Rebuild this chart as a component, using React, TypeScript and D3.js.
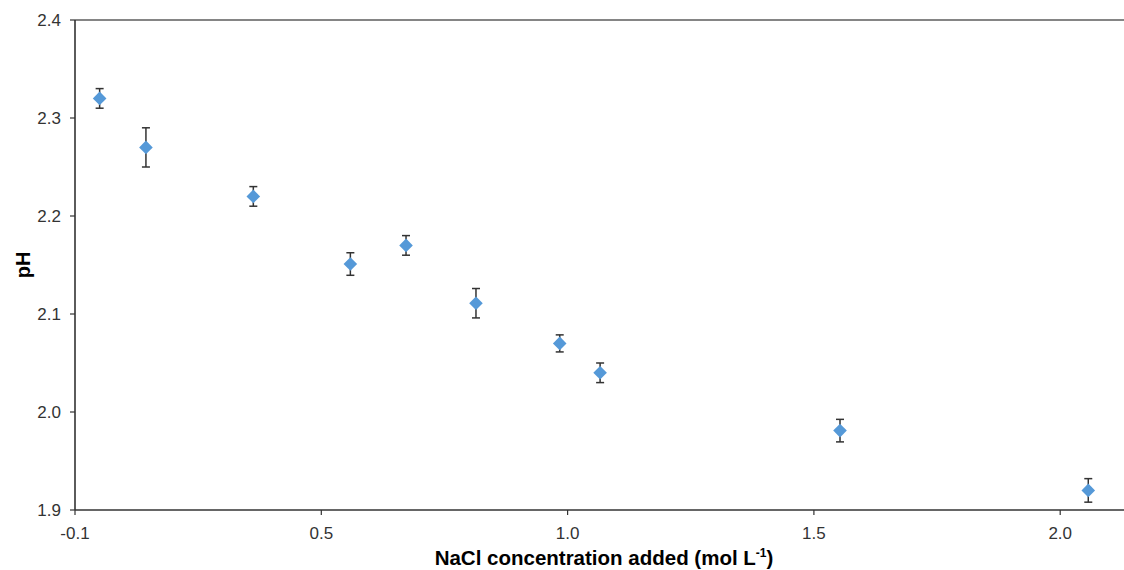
import React from "react";
import * as d3 from "d3";

const nacl = [0.05, 0.144, 0.362, 0.559, 0.672, 0.814, 0.984, 1.066, 1.553, 2.057];
const ph = [2.32, 2.27, 2.22, 2.151, 2.17, 2.111, 2.07, 2.04, 1.981, 1.92];
const phErr = [0.01, 0.02, 0.01, 0.0115, 0.01, 0.015, 0.0087, 0.01, 0.0115, 0.012];
const xTickValues = [0, 0.5, 1.0, 1.5, 2.0];
const xTickLabels = ["-0.1", "0.5", "1.0", "1.5", "2.0"];
const yTickValues = [1.9, 2.0, 2.1, 2.2, 2.3, 2.4];
const yTickLabels = ["1.9", "2.0", "2.1", "2.2", "2.3", "2.4"];

const W = 1124;
const H = 570;
const left = 75;
const top = 20;
const bottom = 510;
const font = "Arial, 'Liberation Sans', sans-serif";

export default function App() {
  const x = d3.scaleLinear().domain([0, 2.2]).range([left, left + 2.2 * 492.6]);
  const y = d3.scaleLinear().domain([1.9, 2.4]).range([bottom, top]);
  const r = 6.8;
  const cap = 4;
  return (
    <svg width={W} height={H} style={{ position: "absolute", left: 0, top: 0, background: "#fff" }}>
      <rect x={0} y={0} width={W} height={H} fill="#fff" />
      <line x1={left} x2={W} y1={top} y2={top} stroke="#858585" strokeWidth={2.2} />
      <line x1={left} x2={left} y1={top} y2={bottom} stroke="#333" strokeWidth={1.6} />
      <line x1={left} x2={W} y1={bottom} y2={bottom} stroke="#333" strokeWidth={1.6} />
      {yTickValues.map((v, i) => (
        <g key={"y" + i}>
          <line x1={left - 5} x2={left} y1={y(v)} y2={y(v)} stroke="#333" strokeWidth={1.2} />
          <text x={61} y={y(v) + 6} textAnchor="end" fontFamily={font} fontSize={17} fill="#333">
            {yTickLabels[i]}
          </text>
        </g>
      ))}
      {xTickValues.map((v, i) => (
        <g key={"x" + i}>
          <line x1={x(v)} x2={x(v)} y1={bottom} y2={bottom + 5} stroke="#333" strokeWidth={1.2} />
          <text x={x(v)} y={539} textAnchor="middle" fontFamily={font} fontSize={17} fill="#333">
            {xTickLabels[i]}
          </text>
        </g>
      ))}
      <text
        transform={`translate(30,265) rotate(-90)`}
        textAnchor="middle"
        fontFamily={font}
        fontSize={20}
        fontWeight="bold"
        fill="#000"
      >
        pH
      </text>
      <text x={604} y={565} textAnchor="middle" fontFamily={font} fontSize={20.5} fontWeight="bold" fill="#000">
        NaCl concentration added (mol L
        <tspan fontSize={12} dy={-8}>-1</tspan>
        <tspan dy={8}>)</tspan>
      </text>
      {nacl.map((v, i) => {
        const cx = x(v);
        const cy = y(ph[i]);
        const y1 = y(ph[i] + phErr[i]);
        const y2 = y(ph[i] - phErr[i]);
        return (
          <g key={"p" + i}>
            <line x1={cx} x2={cx} y1={y1} y2={y2} stroke="#333" strokeWidth={1.5} />
            <line x1={cx - cap} x2={cx + cap} y1={y1} y2={y1} stroke="#333" strokeWidth={1.5} />
            <line x1={cx - cap} x2={cx + cap} y1={y2} y2={y2} stroke="#333" strokeWidth={1.5} />
            <path
              d={`M${cx},${cy - r}L${cx + r},${cy}L${cx},${cy + r}L${cx - r},${cy}Z`}
              fill="#5599d8"
            />
          </g>
        );
      })}
    </svg>
  );
}
